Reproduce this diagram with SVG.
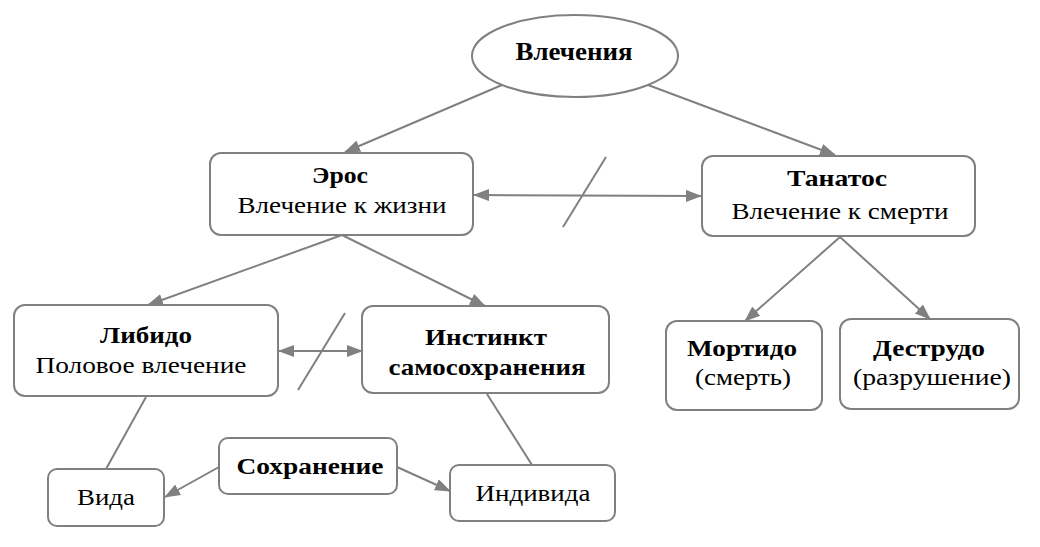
<svg xmlns="http://www.w3.org/2000/svg" width="1040" height="547" viewBox="0 0 1040 547">
<defs>
<marker id="ah" viewBox="0 0 16 12" refX="15" refY="6" markerWidth="16" markerHeight="12" markerUnits="userSpaceOnUse" orient="auto-start-reverse">
<path d="M0,0 L16,6 L0,12 Z" fill="#808080"/>
</marker>
</defs>
<rect width="1040" height="547" fill="#fff"/>
<g id="connectors" stroke="#808080" stroke-width="2" fill="none">
<line x1="502" y1="85" x2="345" y2="152" marker-end="url(#ah)"/>
<line x1="648" y1="85" x2="835" y2="155" marker-end="url(#ah)"/>
<line x1="474" y1="195" x2="701" y2="196" marker-start="url(#ah)" marker-end="url(#ah)"/>
<line x1="563" y1="227" x2="606" y2="157"/>
<line x1="342" y1="235" x2="148" y2="305" marker-end="url(#ah)"/>
<line x1="342" y1="235" x2="485" y2="306" marker-end="url(#ah)"/>
<line x1="279" y1="351" x2="362" y2="351" marker-start="url(#ah)" marker-end="url(#ah)"/>
<line x1="298" y1="390" x2="345" y2="313"/>
<line x1="146" y1="397" x2="106" y2="469"/>
<line x1="487" y1="394" x2="532" y2="465"/>
<line x1="219" y1="467" x2="165" y2="497" marker-end="url(#ah)"/>
<line x1="397" y1="467" x2="450" y2="491" marker-end="url(#ah)"/>
<line x1="840" y1="237" x2="745" y2="321" marker-end="url(#ah)"/>
<line x1="840" y1="237" x2="930" y2="319" marker-end="url(#ah)"/>
</g>
<g id="vlecheniya">
<ellipse cx="575" cy="56" rx="103" ry="41" fill="#fff" stroke="#808080" stroke-width="2"/>
<text font-family="Liberation Serif" font-weight="bold" font-size="26" text-anchor="middle" x="574" y="60" textLength="117" lengthAdjust="spacingAndGlyphs">Влечения</text>
</g>
<g id="eros">
<rect x="210" y="153" width="263" height="82" rx="11" fill="#fff" stroke="#808080" stroke-width="2"/>
<text font-family="Liberation Serif" font-weight="bold" font-size="24" text-anchor="middle" x="340" y="183" textLength="56" lengthAdjust="spacingAndGlyphs">Эрос</text>
<text font-family="Liberation Serif" font-size="23" text-anchor="middle" x="342" y="213" textLength="209" lengthAdjust="spacingAndGlyphs">Влечение к жизни</text>
</g>
<g id="tanatos">
<rect x="702" y="156" width="273" height="80" rx="11" fill="#fff" stroke="#808080" stroke-width="2"/>
<text font-family="Liberation Serif" font-weight="bold" font-size="24" text-anchor="middle" x="837" y="186" textLength="100" lengthAdjust="spacingAndGlyphs">Танатос</text>
<text font-family="Liberation Serif" font-size="23" text-anchor="middle" x="840" y="219" textLength="217" lengthAdjust="spacingAndGlyphs">Влечение к смерти</text>
</g>
<g id="libido">
<rect x="14" y="305" width="264" height="91" rx="11" fill="#fff" stroke="#808080" stroke-width="2"/>
<text font-family="Liberation Serif" font-weight="bold" font-size="24" text-anchor="middle" x="146" y="343" textLength="92" lengthAdjust="spacingAndGlyphs">Либидо</text>
<text font-family="Liberation Serif" font-size="23" text-anchor="middle" x="141" y="373" textLength="211" lengthAdjust="spacingAndGlyphs">Половое влечение</text>
</g>
<g id="instinkt">
<rect x="362" y="306" width="247" height="87" rx="11" fill="#fff" stroke="#808080" stroke-width="2"/>
<text font-family="Liberation Serif" font-weight="bold" font-size="24" text-anchor="middle" x="486" y="345" textLength="122" lengthAdjust="spacingAndGlyphs">Инстинкт</text>
<text font-family="Liberation Serif" font-weight="bold" font-size="24" text-anchor="middle" x="487" y="375" textLength="197" lengthAdjust="spacingAndGlyphs">самосохранения</text>
</g>
<g id="mortido">
<rect x="666" y="321" width="156" height="89" rx="11" fill="#fff" stroke="#808080" stroke-width="2"/>
<text font-family="Liberation Serif" font-weight="bold" font-size="24" text-anchor="middle" x="742" y="356" textLength="110" lengthAdjust="spacingAndGlyphs">Мортидо</text>
<text font-family="Liberation Serif" font-size="23" text-anchor="middle" x="743" y="385" textLength="96" lengthAdjust="spacingAndGlyphs">(смерть)</text>
</g>
<g id="destrudo">
<rect x="840" y="319" width="179" height="90" rx="11" fill="#fff" stroke="#808080" stroke-width="2"/>
<text font-family="Liberation Serif" font-weight="bold" font-size="24" text-anchor="middle" x="929" y="356" textLength="112" lengthAdjust="spacingAndGlyphs">Деструдо</text>
<text font-family="Liberation Serif" font-size="23" text-anchor="middle" x="932" y="385" textLength="158" lengthAdjust="spacingAndGlyphs">(разрушение)</text>
</g>
<g id="sohranenie">
<rect x="219" y="438" width="178" height="56" rx="9" fill="#fff" stroke="#808080" stroke-width="2"/>
<text font-family="Liberation Serif" font-weight="bold" font-size="24" text-anchor="middle" x="310" y="474" textLength="147" lengthAdjust="spacingAndGlyphs">Сохранение</text>
</g>
<g id="vida">
<rect x="48" y="469" width="116" height="57" rx="9" fill="#fff" stroke="#808080" stroke-width="2"/>
<text font-family="Liberation Serif" font-size="23" text-anchor="middle" x="106" y="505" textLength="58" lengthAdjust="spacingAndGlyphs">Вида</text>
</g>
<g id="individa">
<rect x="450" y="465" width="165" height="56" rx="9" fill="#fff" stroke="#808080" stroke-width="2"/>
<text font-family="Liberation Serif" font-size="23" text-anchor="middle" x="533" y="501" textLength="115" lengthAdjust="spacingAndGlyphs">Индивида</text>
</g>
</svg>
